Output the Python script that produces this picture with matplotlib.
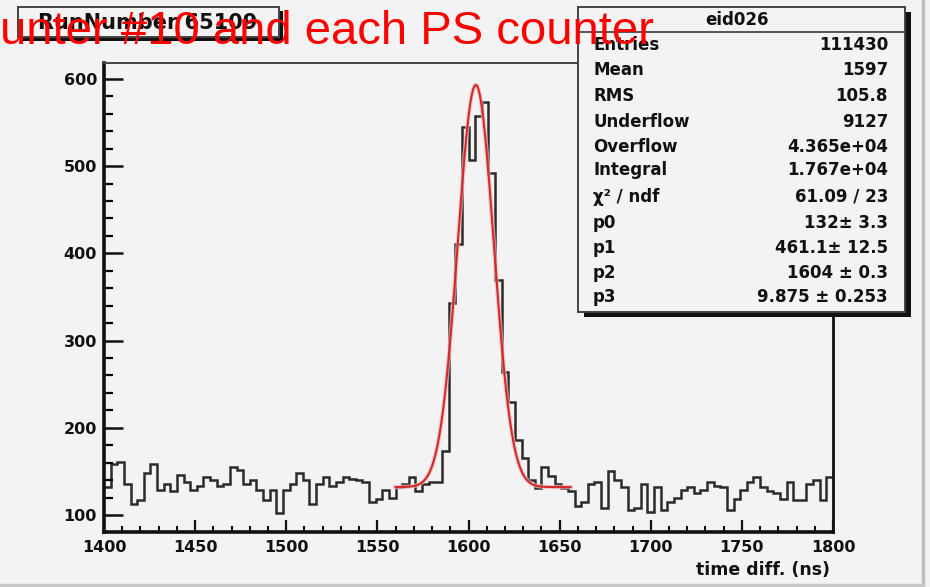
import numpy as np
import matplotlib
matplotlib.use("Agg")
import matplotlib.pyplot as plt
from matplotlib.patches import Rectangle
from matplotlib.lines import Line2D
from matplotlib.ticker import MultipleLocator

W, H = 930, 587

# histogram eid026, 110 bins between 1400 and 1800 ns
x_lo, x_hi = 1400, 1800
counts = [
    132, 159, 161, 136, 113, 117, 148, 158, 129, 136,
    127, 146, 138, 129, 133, 144, 140, 133, 136, 155,
    152, 136, 140, 129, 117, 129, 102, 129, 136, 148,
    140, 113, 136, 144, 133, 138, 144, 141, 140, 138,
    115, 118, 129, 120, 132,
    136, 144, 127, 136, 138, 138, 173, 343, 411, 545,
    507, 557, 574, 492, 370, 264, 230, 186, 165, 140,
    131, 155, 145, 136, 131, 127, 110,
    115, 136, 138, 108, 150, 140, 132, 106, 108, 136,
    104, 132, 106, 115, 120, 129, 132, 125, 129, 138,
    133, 132, 106, 118, 129, 138, 144, 132, 127, 125,
    118, 138, 117, 117, 136, 140, 117, 144,
]

# fit: p0 + gaus(p1, p2, p3) over the fit range
fit_lo, fit_hi = 1560, 1656
p0, p1, p2, p3 = 132, 461.1, 1604, 9.875

stat_title = "eid026"
stat_names = ["Entries", "Mean", "RMS", "Underflow", "Overflow", "Integral",
              "\u03c7\u00b2 / ndf", "p0", "p1", "p2", "p3"]
stat_vals = ["111430", "1597", "105.8", "9127", "4.365e+04", "1.767e+04",
             "61.09 / 23", "132\u00b1 3.3", "461.1\u00b1 12.5", "1604 \u00b1 0.3",
             "9.875 \u00b1 0.253"]
stat_rows_y = [45, 70, 96, 122, 147, 170, 197, 223, 248, 273, 297]

run_title = "RunNumber 65109"
overlay = "unter #10 and each PS counter"
xlabel = "time diff. (ns)"

bg = "#f3f3f3"
font = "DejaVu Sans"


def fx(px):
    return px / W


def fy(py):
    return 1 - py / H


fig = plt.figure(figsize=(W / 100, H / 100), dpi=100, facecolor=bg)
ax = fig.add_axes([fx(104), fy(532), (833 - 104) / W, (532 - 63) / H])
ax.set_facecolor(bg)

edges = np.linspace(x_lo, x_hi, len(counts) + 1)
ax.stairs(counts, edges, baseline=None, color="#2b2b2b", lw=1.8)

xf = np.linspace(fit_lo, fit_hi, 300)
yf = p0 + p1 * np.exp(-0.5 * ((xf - p2) / p3) ** 2)
ax.plot(xf, yf, color="#f2b8b8", lw=3.2, alpha=0.7)
ax.plot(xf, yf, color="#d22a2a", lw=1.5)

ax.set_xlim(x_lo, x_hi)
ax.set_ylim(80.5, 618.3)
ax.set_xticks(range(1400, 1801, 50))
ax.xaxis.set_minor_locator(MultipleLocator(10))
ax.set_yticks(range(100, 601, 100))
ax.yaxis.set_minor_locator(MultipleLocator(20))

ax.tick_params(axis="x", which="major", direction="in", length=8.5, width=1.6,
               pad=6, labelsize=11.5, colors="#111111")
ax.tick_params(axis="x", which="minor", direction="in", length=4.5, width=1.4)
ax.tick_params(axis="y", which="major", direction="in", length=14, width=1.8,
               pad=5, labelsize=11.5, colors="#111111")
ax.tick_params(axis="y", which="minor", direction="in", length=6.5, width=1.6)
for lab in ax.get_xticklabels() + ax.get_yticklabels():
    lab.set_fontfamily(font)
    lab.set_fontweight("bold")

ax.spines["left"].set_linewidth(2.6)
ax.spines["bottom"].set_linewidth(2.6)
ax.spines["right"].set_linewidth(2.0)
ax.spines["top"].set_linewidth(1.4)
ax.spines["top"].set_color("#444444")
for s in ["left", "bottom", "right"]:
    ax.spines[s].set_color("#111111")

fig.text(fx(830), fy(575), xlabel, ha="right", va="baseline", fontsize=12.5,
         fontweight="bold", family=font, color="#111111")

# title box
fig.add_artist(Rectangle((fx(22), fy(41)), (279 - 18) / W, 30 / H,
                         transform=fig.transFigure, facecolor="#111111",
                         edgecolor="none", zorder=2))
fig.add_artist(Rectangle((fx(18), fy(37)), (279 - 18) / W, 30 / H,
                         transform=fig.transFigure, facecolor=bg,
                         edgecolor="#444444", lw=1.4, zorder=2))
fig.text(fx(148), fy(23), run_title, ha="center", va="center", fontsize=15,
         fontweight="bold", family=font, color="#111111", zorder=3)

# stats box
bx0, bx1, by0, by1 = 578, 905, 7, 312
fig.add_artist(Rectangle((fx(bx0 + 6), fy(by1 + 5)), (bx1 - bx0) / W, (by1 - by0) / H,
                         transform=fig.transFigure, facecolor="#111111",
                         edgecolor="none", zorder=2))
fig.add_artist(Rectangle((fx(bx0), fy(by1)), (bx1 - bx0) / W, (by1 - by0) / H,
                         transform=fig.transFigure, facecolor=bg,
                         edgecolor="#444444", lw=1.4, zorder=2))
fig.add_artist(Line2D([fx(bx0), fx(bx1)], [fy(32), fy(32)], transform=fig.transFigure,
                      color="#555555", lw=1.4, zorder=3))
fig.text(fx(737), fy(20), stat_title, ha="center", va="center", fontsize=12,
         fontweight="bold", family=font, color="#111111", zorder=3)
for name, val, yy in zip(stat_names, stat_vals, stat_rows_y):
    fig.text(fx(593), fy(yy), name, ha="left", va="center", fontsize=12,
             fontweight="bold", family=font, color="#111111", zorder=3)
    fig.text(fx(888), fy(yy), val, ha="right", va="center", fontsize=12,
             fontweight="bold", family=font, color="#111111", zorder=3)

# canvas border
fig.add_artist(Line2D([fx(923), fx(923)], [0, 1], transform=fig.transFigure,
                      color="#bdbdbd", lw=2.5, zorder=1))
fig.add_artist(Line2D([0, fx(923)], [fy(585), fy(585)], transform=fig.transFigure,
                      color="#c8c8c8", lw=2.5, zorder=1))

fig.text(0, fy(44), overlay, ha="left", va="baseline", fontsize=34,
         family="Liberation Sans", color="#ff0000", zorder=10)

fig.savefig("out.png", dpi=100, facecolor=bg)
